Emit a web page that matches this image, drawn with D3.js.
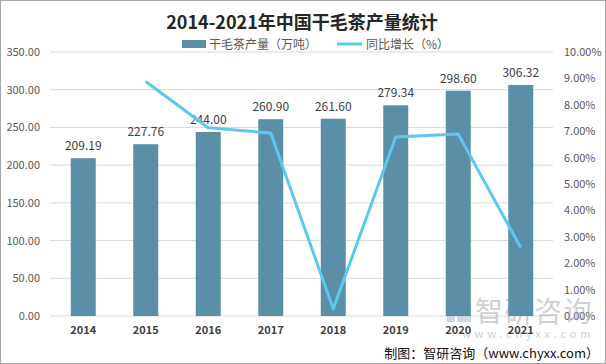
<!DOCTYPE html>
<html><head><meta charset="utf-8">
<script src="https://cdn.jsdelivr.net/npm/d3@7"></script>
<style>body{margin:0;background:#fff}svg{display:block}</style>
</head><body><svg id="c" width="606" height="364"></svg>
<script>
const years = ["2014","2015","2016","2017","2018","2019","2020","2021"];
const output = [209.19, 227.76, 244.00, 260.90, 261.60, 279.34, 298.60, 306.32];
const growth = [null, 8.88, 7.13, 6.93, 0.27, 6.78, 6.89, 2.59];
const leftTicks = [0,50,100,150,200,250,300,350];
const rightTicks = [0,1,2,3,4,5,6,7,8,9,10];
const title = "2014-2021年中国干毛茶产量统计";
const legendNames = ["干毛茶产量（万吨）", "同比增长（%）"];

const W = 606, H = 364;
const font = "'Noto Sans CJK SC','Microsoft YaHei',sans-serif";
const svg = d3.select("#c");
svg.append("rect").attr("x",0.5).attr("y",0.5).attr("width",W-1).attr("height",H-1)
  .attr("fill","#fff").attr("stroke","#a6a6a6");

const x = d3.scaleBand().domain(years).range([52,552]).paddingInner(0.6).paddingOuter(0.3);
const y = d3.scaleLinear().domain([0,350]).range([316,52]);
const y2 = d3.scaleLinear().domain([0,10]).range([316,52]);

// gridlines
svg.append("g").selectAll("line").data(leftTicks).join("line")
  .attr("x1",50).attr("x2",553).attr("y1",d=>y(d)).attr("y2",d=>y(d))
  .attr("stroke","#d9d9d9").attr("stroke-width",1);

// left axis
const ga = svg.append("g").attr("transform","translate(40,0)")
  .call(d3.axisLeft(y).tickValues(leftTicks).tickFormat(d3.format(".2f")).tickSize(0).tickPadding(0));
ga.select(".domain").remove();
ga.selectAll("text").attr("font-family",font).attr("font-size",11).attr("fill","#595959");

const gr = svg.append("g").attr("transform","translate(564,0)")
  .call(d3.axisRight(y2).tickValues(rightTicks).tickFormat(d=>d.toFixed(2)+"%").tickSize(0).tickPadding(0));
gr.select(".domain").remove();
gr.selectAll("text").attr("font-family",font).attr("font-size",11).attr("fill","#595959");

// watermark
const wm = svg.append("g").attr("opacity",0.5);
wm.append("rect").attr("x",447).attr("y",302).attr("width",8).attr("height",20).attr("fill","#9fb4cc");
wm.append("rect").attr("x",457).attr("y",302).attr("width",14).attr("height",9).attr("fill","#5a82b4");
wm.append("rect").attr("x",457).attr("y",313).attr("width",14).attr("height",9).attr("fill","#9fb4cc");
wm.append("text").attr("x",475).attr("y",322).attr("font-family",font).attr("font-size",28)
  .attr("fill","#a0a4a8").attr("letter-spacing",1.5).text("智研咨询");
wm.append("text").attr("x",462).attr("y",338).attr("font-family",font).attr("font-size",11)
  .attr("fill","#a0a4a8").attr("letter-spacing",3.8).text("www.chyxx.com");

// bars
svg.append("g").selectAll("rect").data(output).join("rect")
  .attr("x",(d,i)=>x(years[i])).attr("width",x.bandwidth())
  .attr("y",d=>y(d)).attr("height",d=>y(0)-y(d)).attr("fill","#5b8fa8");

svg.append("g").selectAll("text").data(output).join("text")
  .attr("x",(d,i)=>x(years[i])+x.bandwidth()/2).attr("y",d=>y(d)-8)
  .attr("text-anchor","middle").attr("font-family",font).attr("font-size",12)
  .attr("fill","#404040").text(d=>d.toFixed(2));

// line
const pts = growth.map((g,i)=>({g,yr:years[i]})).filter(d=>d.g!==null);
svg.append("path").datum(pts)
  .attr("d",d3.line().x(d=>x(d.yr)+x.bandwidth()/2).y(d=>y2(d.g)))
  .attr("fill","none").attr("stroke","#5bc8f0").attr("stroke-width",3).attr("stroke-linejoin","round");

// x labels
const gx = svg.append("g").attr("transform","translate(0,326)")
  .call(d3.axisBottom(x).tickSize(0).tickPadding(0));
gx.select(".domain").remove();
gx.selectAll("text").attr("font-family",font).attr("font-size",11).attr("font-weight","bold")
  .attr("fill","#404040");

// title
svg.append("text").attr("x",302).attr("y",29).attr("text-anchor","middle")
  .attr("font-family",font).attr("font-size",18).attr("font-weight","bold").attr("fill","#262626")
  .text(title);

// legend
svg.append("rect").attr("x",182).attr("y",40).attr("width",24).attr("height",8).attr("fill","#5b8fa8");
svg.append("text").attr("x",209).attr("y",49).attr("font-family",font).attr("font-size",12)
  .attr("fill","#595959").text(legendNames[0]);
svg.append("line").attr("x1",337).attr("x2",362).attr("y1",44).attr("y2",44)
  .attr("stroke","#5bc8f0").attr("stroke-width",3);
svg.append("text").attr("x",366).attr("y",49).attr("font-family",font).attr("font-size",12)
  .attr("fill","#595959").text(legendNames[1]);

// source
svg.append("text").attr("x",599).attr("y",358).attr("text-anchor","end")
  .attr("font-family",font).attr("font-size",13).attr("fill","#111").text("制图：智研咨询（www.chyxx.com）");
</script></body></html>
